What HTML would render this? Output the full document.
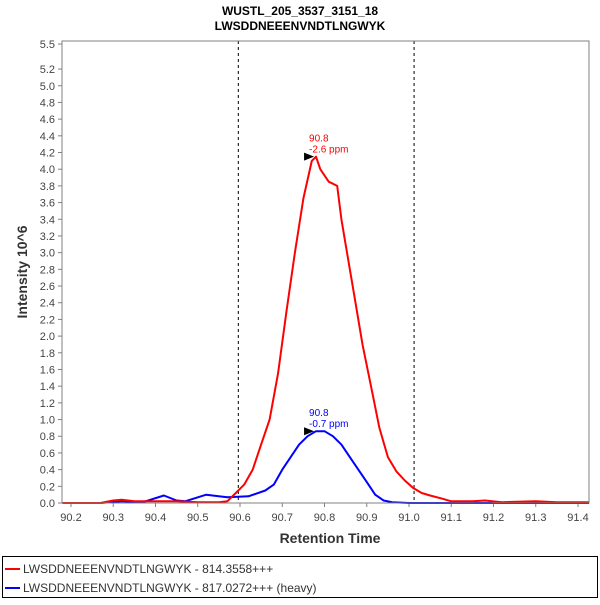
<!DOCTYPE html>
<html><head><meta charset="utf-8"><style>
body{margin:0;background:#fff;font-family:"Liberation Sans",sans-serif}
svg text{font-family:"Liberation Sans",sans-serif}
</style></head><body>
<svg id="c" width="600" height="600" xmlns="http://www.w3.org/2000/svg">
<text x="300" y="15" text-anchor="middle" font-size="12" font-weight="bold">WUSTL_205_3537_3151_18</text>
<text x="300" y="30" text-anchor="middle" font-size="12" font-weight="bold">LWSDDNEEENVNDTLNGWYK</text>
<g id="ax"></g>
<rect x="62" y="41" width="527" height="462" fill="none" stroke="#808080"/>
<text x="330" y="543" text-anchor="middle" font-size="14" font-weight="bold" fill="#333">Retention Time</text>
<text transform="translate(27,272) rotate(-90)" text-anchor="middle" font-size="14" font-weight="bold" fill="#333">Intensity 10^6</text>
<g>
<rect x="2.5" y="556.5" width="595" height="41" fill="none" stroke="#000"/>
<line x1="5" y1="569" x2="20" y2="569" stroke="#f00" stroke-width="2"/>
<text x="23" y="573" font-size="12" fill="#333">LWSDDNEEENVNDTLNGWYK - 814.3558+++</text>
<line x1="5" y1="588" x2="20" y2="588" stroke="#00f" stroke-width="2"/>
<text x="23" y="592" font-size="12" fill="#333">LWSDDNEEENVNDTLNGWYK - 817.0272+++ (heavy)</text>
</g>
</svg>
<script>
const xTicks=[90.2,90.3,90.4,90.5,90.6,90.7,90.8,90.9,91.0,91.1,91.2,91.3,91.4];
const yTicks=[0,0.2,0.4,0.6,0.8,1.0,1.2,1.4,1.6,1.8,2.0,2.2,2.4,2.6,2.8,3.0,3.2,3.4,3.6,3.8,4.0,4.2,4.4,4.6,4.8,5.0,5.2,5.5];
const boundaries=[90.596,91.012];
const redT=[90.18,90.27,90.3,90.32,90.35,90.4,90.45,90.5,90.55,90.57,90.59,90.61,90.63,90.65,90.67,90.69,90.71,90.73,90.75,90.77,90.78,90.79,90.81,90.83,90.84,90.85,90.87,90.89,90.91,90.93,90.95,90.97,90.99,91.01,91.03,91.05,91.08,91.1,91.15,91.18,91.22,91.3,91.35,91.43];
const redV=[0,0,0.03,0.04,0.02,0.02,0.02,0.01,0.01,0.02,0.12,0.22,0.4,0.7,1.0,1.55,2.3,3.0,3.65,4.1,4.15,4.0,3.85,3.8,3.4,3.1,2.5,1.9,1.4,0.9,0.55,0.38,0.27,0.18,0.12,0.09,0.05,0.02,0.02,0.03,0.01,0.02,0.01,0.01];
const blueT=[90.18,90.27,90.32,90.37,90.42,90.45,90.47,90.52,90.57,90.62,90.66,90.68,90.7,90.72,90.74,90.76,90.78,90.8,90.82,90.84,90.86,90.88,90.9,90.92,90.94,90.96,91.0,91.43];
const blueV=[0,0,0.02,0.01,0.09,0.03,0.02,0.1,0.07,0.08,0.15,0.22,0.4,0.55,0.7,0.8,0.86,0.86,0.8,0.7,0.55,0.4,0.25,0.1,0.03,0.01,0,0];
const peaks=[{t:90.78,v:4.15,l1:"90.8",l2:"-2.6 ppm",c:"#f00",n:"light"},{t:90.78,v:0.86,l1:"90.8",l2:"-0.7 ppm",c:"#00f",n:"heavy"}];
const X=t=>71+(t-90.2)*422.5, Y=v=>503-v*83.45;
const NS="http://www.w3.org/2000/svg",ax=document.getElementById('ax'),svg=document.getElementById('c');
function mk(tag,a,p){const e=document.createElementNS(NS,tag);for(const k in a)e.setAttribute(k,a[k]);(p||ax).appendChild(e);return e;}
xTicks.forEach(t=>{const x=X(t);
const l=mk('line',{x1:x,x2:x,y1:503,y2:507,stroke:'#808080'});


const tx=mk('text',{x:x,y:521,'text-anchor':'middle','font-size':11,fill:'#444'});tx.textContent=t.toFixed(1);

});
yTicks.forEach(v=>{const y=Y(v);
const l=mk('line',{x1:58,x2:62,y1:y,y2:y,stroke:'#808080'});


const tx=mk('text',{x:55,y:y+4,'text-anchor':'end','font-size':11,fill:'#444'});tx.textContent=v.toFixed(1);

});
boundaries.forEach(b=>{const l=mk('line',{x1:X(b),x2:X(b),y1:41,y2:503,stroke:'#000','stroke-dasharray':'3,3'});

});
function series(T,V,c,n){const d=T.map((t,i)=>(i?'L':'M')+Math.max(62,Math.min(589,X(t))).toFixed(1)+','+Y(V[i]).toFixed(1)).join('');
const p=mk('path',{d:d,fill:'none',stroke:c,'stroke-width':2,'stroke-linejoin':'round'});

}
series(blueT,blueV,'#00f','heavy-trace');
series(redT,redV,'#f00','light-trace');
peaks.forEach(p=>{const x=X(p.t),y=Y(p.v);
const m=mk('path',{d:`M${x-12},${y-4}L${x-2},${y}L${x-12},${y+4}Z`,fill:'#000'});


const a=mk('text',{x:x-7,y:y-15,'font-size':10,fill:p.c});a.textContent=p.l1;


const b=mk('text',{x:x-7,y:y-4,'font-size':10,fill:p.c});b.textContent=p.l2;

});
</script>
</body></html>
